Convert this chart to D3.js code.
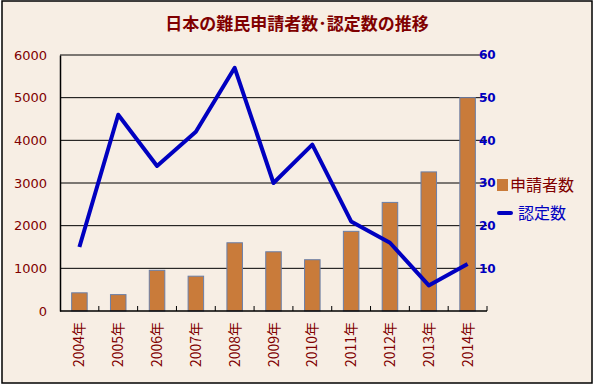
<!DOCTYPE html>
<html>
<head>
<meta charset="utf-8">
<script src="https://cdn.jsdelivr.net/npm/d3@7"></script>
<style>
  body { margin: 0; background: #fff; }
  text { font-family: "Noto Sans CJK JP", "DejaVu Sans", sans-serif; }
</style>
</head>
<body>
<div id="chart"></div>
<script>
// Data
const years = ['2004年', '2005年', '2006年', '2007年', '2008年', '2009年', '2010年', '2011年', '2012年', '2013年', '2014年'];
const applicants = [426, 384, 954, 816, 1599, 1388, 1202, 1867, 2545, 3260, 5000];
const recognized = [15, 46, 34, 42, 57, 30, 39, 21, 16, 6, 11];
const leftTicks = [0, 1000, 2000, 3000, 4000, 5000, 6000];
const rightTicks = [10, 20, 30, 40, 50, 60];

const width = 594;
const height = 385;
const plot = { left: 60, right: 487, top: 55, bottom: 311 };

const svg = d3.select('#chart')
  .append('svg')
  .attr('width', width)
  .attr('height', height);

// Background + frame
svg.append('rect')
  .attr('x', 2).attr('y', 1)
  .attr('width', 590).attr('height', 382)
  .attr('fill', '#f7eee4')
  .attr('stroke', '#000')
  .attr('stroke-width', 1.5);

// Title
svg.append('text')
  .attr('x', 297).attr('y', 30)
  .attr('text-anchor', 'middle')
  .attr('font-size', 17)
  .attr('font-weight', 'bold')
  .attr('fill', '#800000')
  .text('日本の難民申請者数･認定数の推移');

// Scales
const xScale = d3.scaleBand()
  .domain(years)
  .range([plot.left, plot.right])
  .paddingInner(0.6)
  .paddingOuter(0.3);

const yLeft = d3.scaleLinear()
  .domain([0, 6000])
  .range([plot.bottom, plot.top]);

const yRight = d3.scaleLinear()
  .domain([0, 60])
  .range([plot.bottom, plot.top]);

// Gridlines
svg.append('g')
  .selectAll('line')
  .data(leftTicks.filter(d => d > 0))
  .enter()
  .append('line')
  .attr('x1', plot.left).attr('x2', plot.right)
  .attr('y1', d => yLeft(d)).attr('y2', d => yLeft(d))
  .attr('stroke', '#000')
  .attr('stroke-width', 1);

// Bars
svg.append('g')
  .selectAll('rect')
  .data(applicants)
  .enter()
  .append('rect')
  .attr('x', (d, i) => xScale(years[i]))
  .attr('y', d => yLeft(d))
  .attr('width', xScale.bandwidth())
  .attr('height', d => plot.bottom - yLeft(d))
  .attr('fill', '#c97b3a')
  .attr('stroke', '#6a7fa8')
  .attr('stroke-width', 1);

// Left axis
const leftAxis = svg.append('g')
  .attr('transform', `translate(${plot.left},0)`)
  .call(d3.axisLeft(yLeft).tickValues(leftTicks).tickFormat(d3.format('d')).tickSize(0).tickPadding(13));
leftAxis.select('.domain').attr('stroke', '#000').attr('stroke-width', 1.5);
leftAxis.selectAll('text')
  .attr('fill', '#800000')
  .attr('font-size', 13)
  .style('font-family', '"DejaVu Sans", sans-serif');

// Bottom axis with ticks between categories
const step = xScale.step();
const bottom = svg.append('g');
bottom.append('line')
  .attr('x1', plot.left).attr('x2', plot.right)
  .attr('y1', plot.bottom).attr('y2', plot.bottom)
  .attr('stroke', '#000').attr('stroke-width', 1.5);
bottom.selectAll('.tk')
  .data(d3.range(1, years.length + 1))
  .enter()
  .append('line')
  .attr('x1', i => plot.left + i * step)
  .attr('x2', i => plot.left + i * step)
  .attr('y1', plot.bottom).attr('y2', plot.bottom - 5)
  .attr('stroke', '#000');
bottom.selectAll('.lbl')
  .data(years)
  .enter()
  .append('text')
  .attr('transform', d => `translate(${xScale(d) + xScale.bandwidth() / 2 + 5},322) rotate(-90)`)
  .attr('text-anchor', 'end')
  .attr('font-size', 14)
  .attr('fill', '#800000')
  .text(d => d);

// Right axis (labels overlap the plot edge, as in the original)
const rightAxis = svg.append('g')
  .attr('transform', `translate(${plot.right},0)`)
  .call(d3.axisRight(yRight).tickValues(rightTicks).tickSize(0).tickPadding(-8));
rightAxis.select('.domain').remove();
rightAxis.selectAll('text')
  .attr('fill', '#0000c0')
  .attr('font-size', 12)
  .attr('font-weight', 'bold')
  .style('font-family', '"DejaVu Sans", sans-serif');

// Line
svg.append('path')
  .datum(recognized)
  .attr('fill', 'none')
  .attr('stroke', '#0000c0')
  .attr('stroke-width', 4)
  .attr('stroke-linejoin', 'round')
  .attr('d', d3.line()
    .x((d, i) => xScale(years[i]) + xScale.bandwidth() / 2)
    .y(d => yRight(d))
  );

// Legend
const legend = svg.append('g');
legend.append('rect')
  .attr('x', 497).attr('y', 179)
  .attr('width', 11).attr('height', 12)
  .attr('fill', '#c97b3a');
legend.append('text')
  .attr('x', 510).attr('y', 191)
  .attr('font-size', 16)
  .attr('fill', '#800000')
  .text('申請者数');
legend.append('line')
  .attr('x1', 499).attr('x2', 511)
  .attr('y1', 213).attr('y2', 213)
  .attr('stroke', '#0000c0')
  .attr('stroke-width', 4)
  .attr('stroke-linecap', 'round');
legend.append('text')
  .attr('x', 518).attr('y', 219)
  .attr('font-size', 16)
  .attr('fill', '#0000c0')
  .text('認定数');
</script>
</body>
</html>
